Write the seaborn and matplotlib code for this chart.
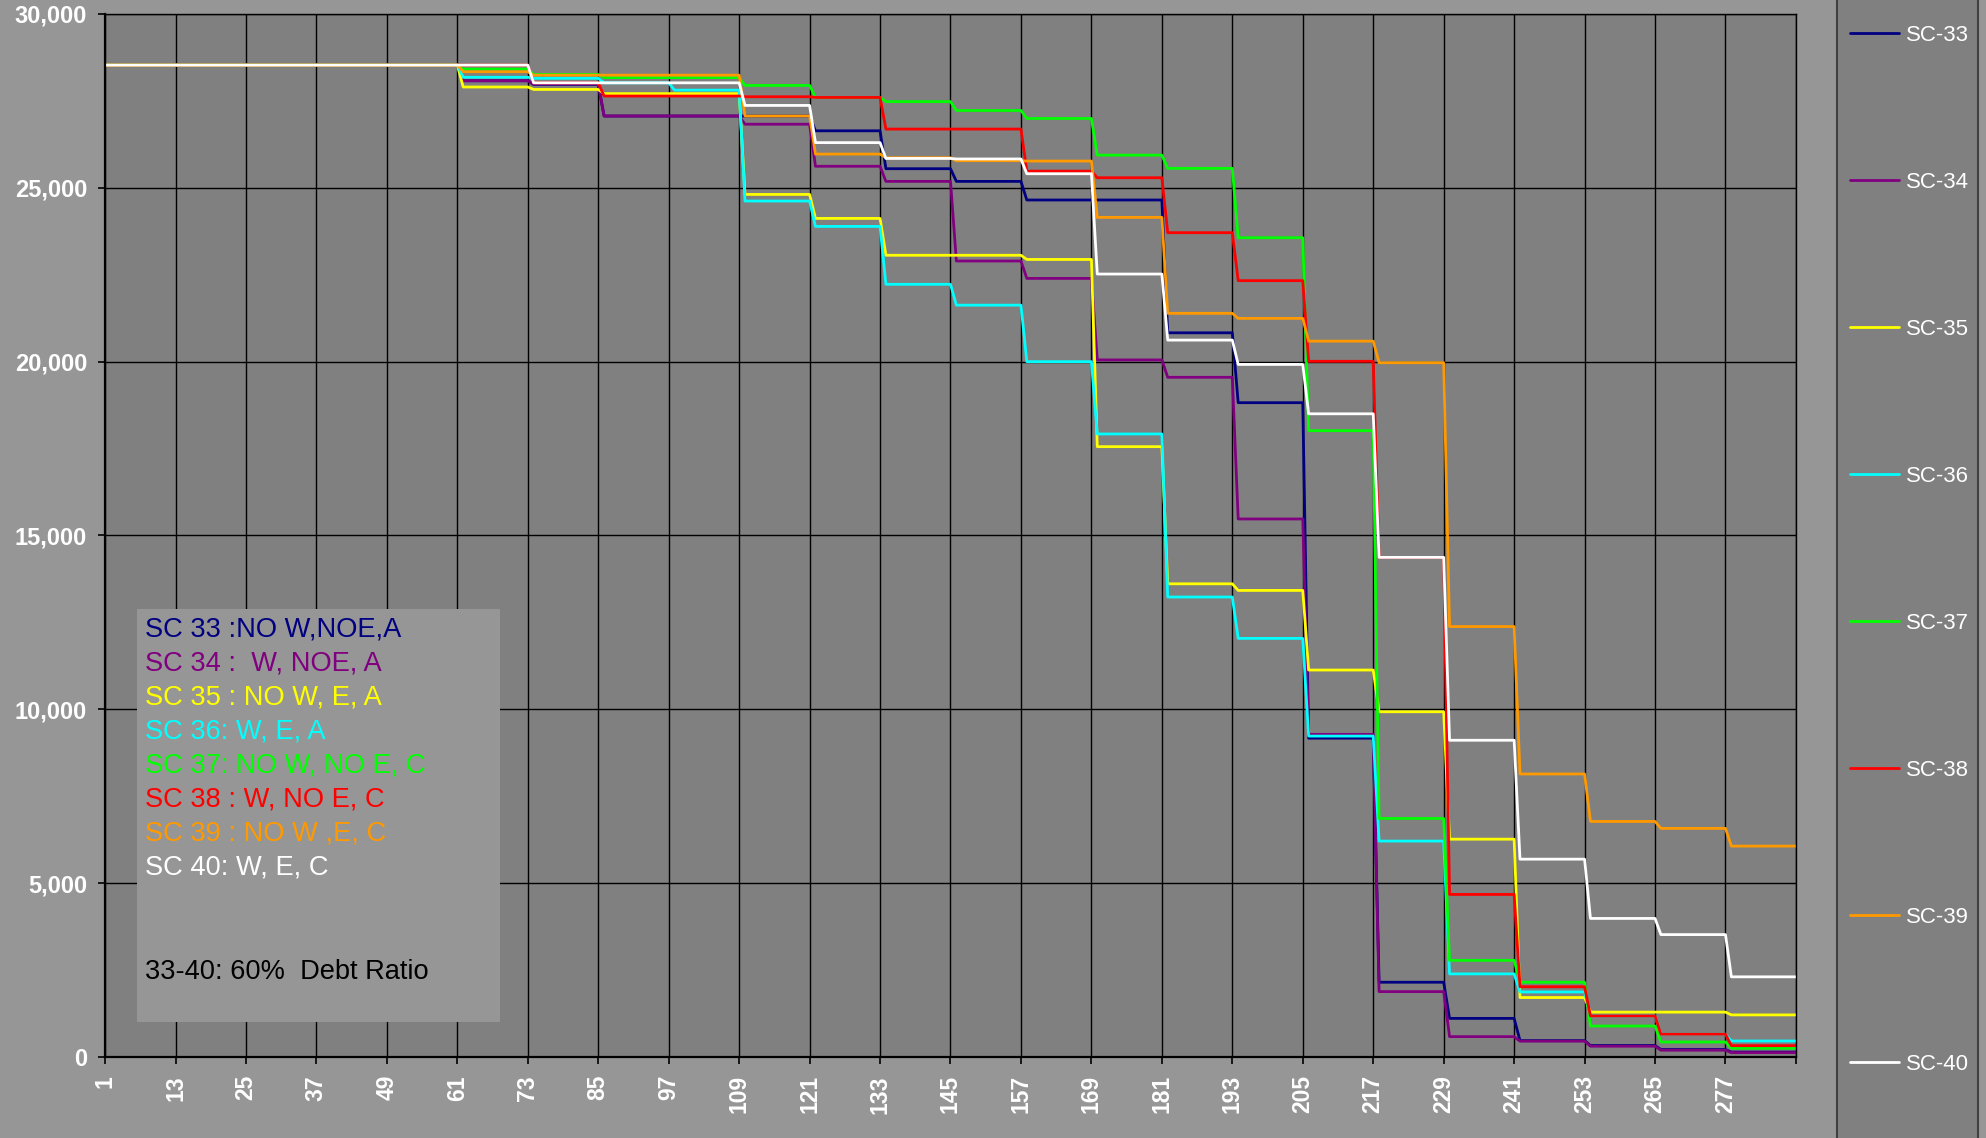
import numpy as np
import pandas as pd
import matplotlib.pyplot as plt
import seaborn as sns
from matplotlib.patches import Rectangle

# monthly horizon: first block covers months 1-61, then one level per 12 months
months = np.arange(1, 290)
block_len = [61] + [12] * 19

sc33 = [28530, 28080, 27975, 27065, 27065, 27065, 26640, 25550, 25185, 24650,
        24650, 20830, 18820, 9170, 2150, 1110, 470, 330, 215, 140]
sc34 = [28530, 28080, 27990, 27065, 27065, 26830, 25620, 25185, 22895, 22395,
        20050, 19550, 15475, 9280, 1880, 585, 455, 310, 195, 125]
sc35 = [28530, 27900, 27830, 27710, 27710, 24810, 24120, 23060, 23060, 22940,
        17555, 13610, 13420, 11130, 9930, 6265, 1710, 1290, 1290, 1210]
sc36 = [28530, 28180, 28150, 28020, 27810, 24620, 23890, 22225, 21625, 20000,
        17920, 13230, 12040, 9230, 6210, 2390, 1870, 1180, 655, 460]
sc37 = [28530, 28415, 28260, 28170, 28170, 27945, 27600, 27480, 27225, 26995,
        25940, 25560, 23565, 18015, 6860, 2780, 2150, 890, 430, 250]
sc38 = [28530, 28530, 28020, 27640, 27640, 27620, 27600, 26690, 26690, 25480,
        25290, 23710, 22330, 20010, 14370, 4675, 2020, 1180, 655, 325]
sc39 = [28530, 28340, 28240, 28240, 28240, 27065, 25970, 25865, 25780, 25770,
        24150, 21390, 21245, 20590, 19970, 12380, 8140, 6775, 6575, 6065]
sc40 = [28530, 28530, 28020, 28020, 28020, 27370, 26300, 25845, 25830, 25405,
        22520, 20620, 19920, 18500, 14370, 9110, 5690, 3985, 3520, 2305]

scenarios = ['SC-33', 'SC-34', 'SC-35', 'SC-36', 'SC-37', 'SC-38', 'SC-39', 'SC-40']
colors = ['#000080', '#800080', '#FFFF00', '#00FFFF', '#00FF00', '#FF0000', '#FF9900', '#FFFFFF']

notes = ['SC 33 :NO W,NOE,A', 'SC 34 :  W, NOE, A', 'SC 35 : NO W, E, A', 'SC 36: W, E, A',
         'SC 37: NO W, NO E, C', 'SC 38 : W, NO E, C', 'SC 39 : NO W ,E, C', 'SC 40: W, E, C']
footnote = '33-40: 60%  Debt Ratio'

x_ticks = list(range(1, 290, 12))
y_ticks = [0, 5000, 10000, 15000, 20000, 25000, 30000]

series = [sc33, sc34, sc35, sc36, sc37, sc38, sc39, sc40]
df = pd.concat([
    pd.DataFrame({'month': months, 'value': np.repeat(vals, block_len), 'scenario': name})
    for name, vals in zip(scenarios, series)
])

sns.set_style('white')
plt.rcParams['font.family'] = ['Liberation Sans', 'DejaVu Sans']

fig = plt.figure(figsize=(19.86, 11.38), dpi=100, facecolor='#969696')
ax = fig.add_axes([0.0529, 0.0712, 0.8514, 0.9165])
ax.set_facecolor('#808080')

sns.lineplot(data=df, x='month', y='value', hue='scenario', hue_order=scenarios,
             palette=dict(zip(scenarios, colors)), linewidth=2.0, errorbar=None,
             legend=False, ax=ax)

ax.set_xlim(1, 289)
ax.set_ylim(0, 30000)
ax.set_xticks(x_ticks, labels=[str(t) for t in x_ticks[:-1]] + [''],
              rotation=90, fontweight='bold', fontsize=16.5)
ax.set_yticks(y_ticks, labels=[f'{t:,}' for t in y_ticks], fontweight='bold', fontsize=17)
ax.tick_params(axis='both', direction='out', length=5, width=1.2, color='black',
               labelcolor='white', left=True, bottom=True)
ax.tick_params(axis='x', pad=8)
ax.tick_params(axis='y', pad=8)
ax.set_xlabel('')
ax.set_ylabel('')
ax.grid(True, color='black', linewidth=1.0)
ax.set_axisbelow(True)
for side, sp in ax.spines.items():
    sp.set_color('black')
    sp.set_linewidth(1.6 if side in ('left', 'bottom') else 1.0)

# note box inside the plot
ax.add_patch(Rectangle((0.0189, 0.0336), 0.2147, 0.3959, transform=ax.transAxes,
                       facecolor='#969696', edgecolor='none', zorder=3))
for i, (txt, col) in enumerate(zip(notes, colors)):
    ax.text(0.02365, 0.4027 - i * 0.0326, txt, color=col, fontsize=19.6,
            transform=ax.transAxes, va='baseline', zorder=4)
ax.text(0.02365, 0.0748, footnote, color='black', fontsize=19.6,
        transform=ax.transAxes, va='baseline', zorder=4)

# legend panel on the right, running the full height
fig.add_artist(Rectangle((0.925, -0.01), 0.071, 1.02, transform=fig.transFigure,
                         facecolor='#808080', edgecolor='#404040', linewidth=1.5))
fig.legend(handles=ax.get_lines(), labels=scenarios, loc='center left',
           bbox_to_anchor=(0.9315, 0.5166), frameon=False, fontsize=16,
           labelcolor='white', labelspacing=5.67, handlelength=2.2,
           handletextpad=0.3, borderpad=0, borderaxespad=0)

fig.savefig('out.png', dpi=100, facecolor=fig.get_facecolor())
